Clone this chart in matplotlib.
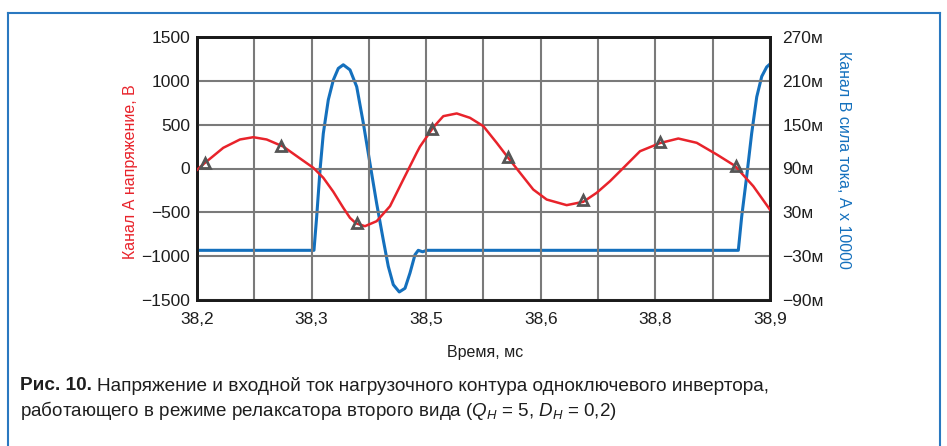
import numpy as np
import matplotlib
matplotlib.use("Agg")
import matplotlib.pyplot as plt
from matplotlib.lines import Line2D

# ---------------- data
# канал А: напряжение, В
t_volt = [38.2000, 38.2098, 38.2321, 38.2525, 38.2688, 38.2851, 38.3054, 38.3258,
          38.3421, 38.3543, 38.3665, 38.3787, 38.3869, 38.3942, 38.4052, 38.4195,
          38.4358, 38.4520, 38.4684, 38.4724, 38.4887, 38.5009, 38.5173, 38.5335,
          38.5498, 38.5661, 38.5799, 38.5946, 38.6108, 38.6272, 38.6516, 38.6719,
          38.6883, 38.7045, 38.7168, 38.7412, 38.7656, 38.7880, 38.8105, 38.8349,
          38.8572, 38.8796, 38.9000]
volt = [-15, 65, 236, 331, 357, 331, 250, 115,
        8, -106, -265, -448, -563, -625, -658, -601,
        -430, -126, 179, 250, 470, 597, 628, 578,
        483, 293, 125, -49, -240, -354, -418, -380,
        -277, -145, -31, 197, 290, 342, 293, 160,
        30, -202, -470]

# маркеры на кривой напряжения
t_mark = [38.2098, 38.3026, 38.3955, 38.4875, 38.5796, 38.6719, 38.7656, 38.8579]
v_mark = [65, 262, -620, 453, 133, -354, 300, 23]

# канал B: ток (в тысячных долях)
t_curr = [38.2000, 38.3429, 38.3462, 38.3503, 38.3543, 38.3604, 38.3665, 38.3726,
          38.3787, 38.3869, 38.3951, 38.4032, 38.4113, 38.4195, 38.4276, 38.4337,
          38.4398, 38.4471, 38.4541, 38.4602, 38.4663, 38.4703, 38.4757, 38.4806,
          38.8613, 38.8654, 38.8715, 38.8776, 38.8838, 38.8899, 38.8960, 38.9000]
curr = [-22, -22, 24, 88, 138, 184, 211, 227,
        232, 225, 202, 152, 97, 42, -8, -44,
        -69, -79, -74, -53, -28, -22, -24, -22,
        -22, 24, 79, 138, 188, 216, 229, 233]

xticks = [38.2, 38.27, 38.34, 38.41, 38.48, 38.55, 38.62, 38.69, 38.76, 38.83, 38.9]
xticklabels = ["38,2", "", "38,3", "", "38,5", "", "38,6", "", "38,8", "", "38,9"]
yticks_left = [-1500, -1000, -500, 0, 500, 1000, 1500]
yticks_right = [-90, -30, 30, 90, 150, 210, 270]

caption1 = "Напряжение и входной ток нагрузочного контура одноключевого инвертора,"
caption2 = "работающего в режиме релаксатора второго вида ($Q_H$ = 5, $D_H$ = 0,2)"

# ---------------- style
plt.rcParams["font.family"] = ["Liberation Sans", "DejaVu Sans"]
plt.rcParams["mathtext.fontset"] = "custom"
plt.rcParams["mathtext.rm"] = "Liberation Sans"
plt.rcParams["mathtext.it"] = "Liberation Sans:italic"

RED = "#e8232b"
BLUE = "#1470bd"
GRID = "#7a7a7a"
TXT = "#1e1e1e"

W, H = 947, 446
fig = plt.figure(figsize=(W / 100, H / 100), dpi=100)
ax = fig.add_axes([197 / W, 1 - 300 / H, 573 / W, 263 / H])
ax2 = ax.twinx()

ax.plot(t_volt, volt, color=RED, lw=1.8, zorder=3)
ax.plot(t_mark, v_mark, linestyle="none", marker="^", ms=7.5, mfc="none",
        mec="#555555", mew=2.0, zorder=4)
ax2.plot(t_curr, curr, color=BLUE, lw=2.2, zorder=3)

ax.set_xlim(38.2, 38.9)
ax.set_ylim(-1500, 1500)
ax2.set_ylim(-90, 270)

ax.set_xticks(xticks)
ax.set_xticklabels(xticklabels)
ax.set_yticks(yticks_left)
ax.set_yticklabels([str(v).replace("-", "\u2212") for v in yticks_left])
ax2.set_yticks(yticks_right)
ax2.set_yticklabels([str(v).replace("-", "\u2212") + "м" for v in yticks_right])

ax.grid(True, color=GRID, lw=1.5)
ax.set_axisbelow(True)
ax2.set_zorder(ax.get_zorder() - 1)
ax.patch.set_visible(False)

ax.tick_params(axis="both", length=0, labelsize=12.5, labelcolor=TXT)
ax.tick_params(axis="y", pad=5)
ax.tick_params(axis="x", pad=9)
ax2.tick_params(axis="y", length=0, labelsize=12.5, labelcolor=TXT, pad=9)

for a in (ax, ax2):
    for s in a.spines.values():
        s.set_linewidth(2)
        s.set_color("#1a1a1a")

fig.text(130 / W, 1 - 172 / H, "Канал А напряжение, В", color=RED, fontsize=11.5,
         rotation=90, ha="center", va="center")
fig.text(843 / W, 1 - 160 / H, "Канал B сила тока, А x 10000", color=BLUE, fontsize=11.5,
         rotation=-90, ha="center", va="center")
fig.text(485 / W, 1 - 352 / H, "Время, мс", color=TXT, fontsize=11.5,
         ha="center", va="center")

# подпись
lab = fig.text(20 / W, 1 - 386 / H, "Рис. 10.", fontweight="bold",
               fontsize=13.7, color=TXT, va="center")
fig.canvas.draw()
bb = lab.get_window_extent()
fig.text((bb.x1 + 5) / W, 1 - 386 / H, caption1, fontsize=13.7, color=TXT, va="center")
fig.text(20 / W, 1 - 411 / H, caption2, fontsize=13.5, color=TXT, va="center")

# рамка
for xs, ys in [((7.5, 940), (12.5, 12.5)), ((7.5, 7.5), (12.5, 446)), ((940, 940), (12.5, 446))]:
    fig.add_artist(Line2D([x / W for x in xs], [1 - y / H for y in ys],
                          color="#2a78c0", lw=1.5, transform=fig.transFigure))

fig.savefig("out.png", dpi=100)
